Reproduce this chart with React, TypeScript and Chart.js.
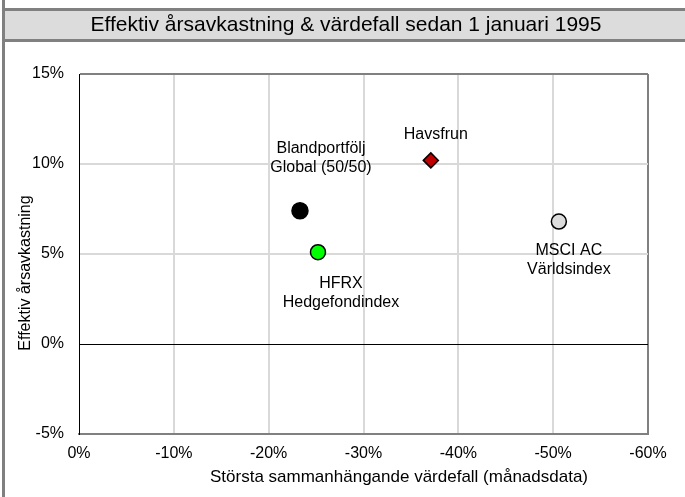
import React, { useEffect, useRef } from "react";
import { Chart, registerables } from "chart.js";

Chart.register(...registerables);

// ---- Data ----
const seriesNames = ["Blandportfölj Global (50/50)", "HFRX Hedgefondindex", "Havsfrun", "MSCI AC Världsindex"];
const drawdowns = [-23.3, -25.2, -37.1, -50.6]; // x: största sammanhängande värdefall (%)
const returns = [7.4, 5.1, 10.2, 6.8]; // y: effektiv årsavkastning (%)
const pointLabels: string[][] = [
  ["Blandportfölj", "Global (50/50)"],
  ["HFRX", "Hedgefondindex"],
  ["Havsfrun"],
  ["MSCI AC", "Världsindex"],
];
const titleText = "Effektiv årsavkastning & värdefall sedan 1 januari 1995";
const xTitle = "Största sammanhängande värdefall (månadsdata)";
const yTitle = "Effektiv årsavkastning";
const xTicks = [0, -10, -20, -30, -40, -50, -60];
const yTicks = [-5, 0, 5, 10, 15];

// ---- Styles ----
const FONT = "'Liberation Sans', Arial, Helvetica, sans-serif";
const fillColors = ["#000000", "#00ff00", "#c00000", "#dcdcdc"];
const pointShapes = ["circle", "circle", "rectRot", "circle"];
const pointRadii = [8, 7.5, 7.5, 7.5];
// label placement relative to point: [dx, dy of first line]
const labelOffsets = [
  [21, -62],
  [23, 31],
  [5, -26],
  [10, 29],
];
const LABEL_LINE = 19;

const decorPlugin = {
  id: "decor",
  beforeDraw(chart: any) {
    const { ctx, width, height } = chart;
    ctx.save();
    ctx.fillStyle = "#ffffff";
    ctx.fillRect(0, 0, width, height);
    // title bar
    ctx.fillStyle = "#dcdcdc";
    ctx.fillRect(2, 11, width, 28);
    ctx.fillStyle = "#808080";
    ctx.fillRect(2, 8, width, 3);
    ctx.fillRect(2, 39, width, 3);
    ctx.fillRect(2, 0, 3, height);
    // title
    ctx.fillStyle = "#000";
    ctx.font = `21px ${FONT}`;
    ctx.textAlign = "center";
    ctx.textBaseline = "middle";
    ctx.fillText(titleText, 346, 25);
    // axis titles
    ctx.font = `17px ${FONT}`;
    ctx.fillText(xTitle, 399, 477);
    ctx.font = `16px ${FONT}`;
    ctx.translate(26, 273);
    ctx.rotate(-Math.PI / 2);
    ctx.fillText(yTitle, 0, 0);
    ctx.restore();
  },
  afterDatasetsDraw(chart: any) {
    const { ctx } = chart;
    ctx.save();
    ctx.fillStyle = "#000";
    ctx.font = `16px ${FONT}`;
    ctx.textAlign = "center";
    ctx.textBaseline = "middle";
    chart.data.datasets.forEach((ds: any, i: number) => {
      const el = chart.getDatasetMeta(i).data[0];
      if (!el) return;
      const [dx, dy] = labelOffsets[i];
      pointLabels[i].forEach((line, j) => {
        ctx.fillText(line, el.x + dx, el.y + dy + j * LABEL_LINE);
      });
    });
    ctx.restore();
  },
};

export default function App() {
  const ref = useRef<HTMLCanvasElement | null>(null);
  useEffect(() => {
    if (!ref.current) return;
    const chart = new Chart(ref.current, {
      type: "scatter",
      data: {
        datasets: seriesNames.map((name, i) => ({
          label: name,
          data: [{ x: drawdowns[i], y: returns[i] }],
          backgroundColor: fillColors[i],
          borderColor: "#000000",
          borderWidth: 1.5,
          pointStyle: pointShapes[i] as any,
          pointRadius: pointRadii[i],
          pointHoverRadius: pointRadii[i],
        })),
      },
      options: {
        responsive: false,
        animation: false,
        events: [],
        layout: { padding: { top: 74, right: 37, left: 0, bottom: 0 } },
        plugins: {
          legend: { display: false },
          title: { display: false },
          tooltip: { enabled: false },
        },
        scales: {
          x: {
            type: "linear",
            min: -60,
            max: 0,
            reverse: true,
            afterBuildTicks: (s: any) => {
              s.ticks = xTicks.map((v) => ({ value: v }));
            },
            afterFit: (s: any) => {
              s.height = 63;
            },
            ticks: {
              color: "#000",
              font: { family: FONT, size: 16 },
              padding: 10,
              callback: (v: any) => `${v}%`,
              maxRotation: 0,
            },
            grid: {
              drawTicks: false,
              color: (c: any) =>
                c.tick && c.tick.value === -60 ? "#808080" : c.tick && c.tick.value === 0 ? "rgba(0,0,0,0)" : "#d9d9d9",
              lineWidth: 2,
            },
            border: { display: true, color: "#808080", width: 2 },
          },
          y: {
            type: "linear",
            min: -5,
            max: 15,
            afterBuildTicks: (s: any) => {
              s.ticks = yTicks.map((v) => ({ value: v }));
            },
            afterFit: (s: any) => {
              s.width = 79;
            },
            ticks: {
              color: "#000",
              font: { family: FONT, size: 16 },
              padding: 15,
              callback: (v: any) => `${v}%`,
            },
            grid: {
              drawTicks: false,
              color: (c: any) => {
                const v = c.tick ? c.tick.value : null;
                if (v === 0) return "#000000";
                if (v === 15) return "#808080";
                if (v === -5) return "rgba(0,0,0,0)";
                return "#d9d9d9";
              },
              lineWidth: (c: any) => (c.tick && c.tick.value === 0 ? 1 : 2),
            },
            border: { display: true, color: "#000000", width: 1 },
          },
        },
      },
      plugins: [decorPlugin],
    });
    return () => chart.destroy();
  }, []);
  return (
    <div style={{ position: "fixed", left: 0, top: 0, width: 685, height: 497, background: "#fff" }}>
      <canvas ref={ref} width={685} height={497} style={{ display: "block" }} />
    </div>
  );
}
